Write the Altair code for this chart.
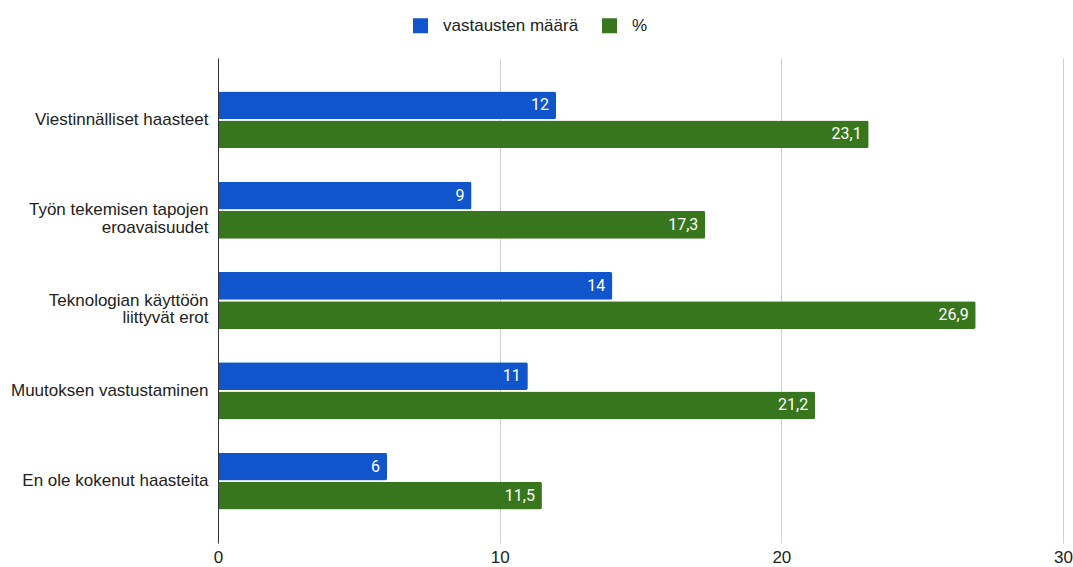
import altair as alt
import pandas as pd

categories = [
    "Viestinnälliset haasteet",
    "Työn tekemisen tapojen\neroavaisuudet",
    "Teknologian käyttöön\nliittyvät erot",
    "Muutoksen vastustaminen",
    "En ole kokenut haasteita",
]
series = ["vastausten määrä", "%"]
counts = [12, 9, 14, 11, 6]
percents = [23.1, 17.3, 26.9, 21.2, 11.5]
colors = ["#1155cc", "#38761d"]
x_ticks = [0, 10, 20, 30]

rows = []
for c, n, p in zip(categories, counts, percents):
    rows.append({"kategoria": c, "sarja": series[0], "arvo": n, "teksti": str(n)})
    rows.append({"kategoria": c, "sarja": series[1], "arvo": p,
                 "teksti": f"{p:.1f}".replace(".", ",")})
df = pd.DataFrame(rows)

FONT = "Liberation Sans"

y_enc = alt.Y(
    "kategoria:N", sort=categories, title=None,
    scale=alt.Scale(paddingInner=0.37, paddingOuter=0.37),
    axis=alt.Axis(
        labelExpr="split(datum.label, '\\n')",
        labelFontSize=17, labelColor="#222222", labelFont=FONT,
        ticks=False, tickSize=0, domain=True, domainColor="#333333",
        domainWidth=1, labelPadding=10, labelLineHeight=17.5, labelLimit=400,
        zindex=1,
    ),
)
yoff_enc = alt.YOffset("sarja:N", sort=series,
                       scale=alt.Scale(paddingInner=0.05, paddingOuter=0))
x_enc = alt.X(
    "arvo:Q", title=None,
    scale=alt.Scale(domain=[0, 30], nice=False),
    axis=alt.Axis(
        values=x_ticks, format="d", labelFontSize=17, labelColor="#222222",
        labelFont=FONT, ticks=False, tickSize=0, domain=False, labelFlush=False,
        grid=True, gridColor="#d0d0d0", gridWidth=1, labelPadding=6,
    ),
)

bars = alt.Chart(df).mark_bar(cornerRadiusEnd=2).encode(
    y=y_enc, yOffset=yoff_enc, x=x_enc,
    color=alt.Color(
        "sarja:N", sort=series,
        scale=alt.Scale(domain=series, range=colors),
        legend=alt.Legend(
            orient="none", legendX=194, legendY=-41, direction="horizontal",
            title=None, symbolType="square", symbolSize=225,
            symbolStrokeWidth=0, labelFontSize=17, labelFont=FONT,
            labelColor="#222222", labelOffset=14, columnPadding=22,
        ),
    ),
)

labels = alt.Chart(df).mark_text(
    align="right", baseline="middle", dx=-7, color="white",
    fontSize=16, font="Roboto",
).encode(
    y=alt.Y("kategoria:N", sort=categories),
    yOffset=alt.YOffset("sarja:N", sort=series),
    x=alt.X("arvo:Q"),
    text="teksti:N",
)

chart = (
    alt.layer(bars, labels)
    .properties(
        width=845, height=485, autosize="none",
        padding={"left": 218, "top": 58, "right": 10, "bottom": 24},
        background="white",
    )
    .configure_view(stroke=None)
)

chart.save("out.html", embed_options={"renderer": "svg", "actions": False})
